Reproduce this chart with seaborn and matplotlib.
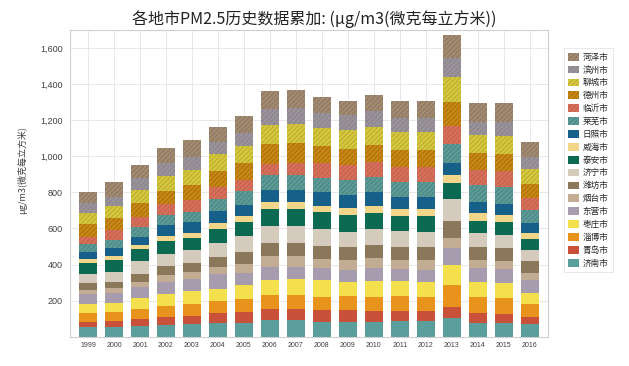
import pandas as pd
import matplotlib
matplotlib.use("Agg")
import matplotlib.pyplot as plt
from matplotlib.patches import Patch
from matplotlib.colors import to_rgba
import seaborn as sns

years = list(range(1999, 2017))

# PM2.5 per city, 1999-2016 (stacked bottom -> top)
jinan = [52, 52, 59, 65, 70, 74, 78, 92, 92, 83, 83, 83, 89, 89, 102, 78, 78, 70]
qingdao = [31, 35, 39, 46, 46, 55, 57, 59, 59, 65, 65, 60, 55, 55, 65, 55, 50, 41]
zibo = [46, 48, 54, 59, 65, 68, 74, 83, 83, 74, 78, 78, 80, 78, 120, 89, 85, 70]
zaozhuang = [55, 54, 61, 66, 70, 70, 78, 83, 85, 92, 79, 90, 83, 83, 111, 83, 85, 59]
dongying = [55, 52, 65, 68, 70, 83, 65, 70, 70, 65, 65, 68, 68, 65, 92, 74, 78, 74]
yantai = [22, 28, 28, 37, 37, 37, 52, 59, 57, 52, 55, 55, 52, 55, 55, 46, 46, 41]
weifang = [37, 37, 41, 50, 52, 55, 65, 74, 74, 74, 74, 72, 70, 70, 98, 74, 72, 65]
jining = [52, 55, 70, 70, 70, 79, 87, 92, 94, 92, 83, 90, 87, 87, 118, 74, 72, 61]
taian = [59, 65, 68, 68, 68, 78, 78, 98, 96, 92, 92, 92, 87, 89, 89, 70, 70, 61]
weihai = [24, 24, 24, 28, 28, 31, 33, 37, 37, 37, 37, 37, 37, 37, 46, 44, 40, 31]
rizhao = [37, 41, 46, 61, 61, 66, 65, 65, 67, 78, 74, 78, 68, 68, 68, 61, 61, 59]
laiwu = [42, 46, 55, 55, 55, 68, 74, 83, 83, 74, 83, 80, 83, 83, 103, 92, 95, 70]
linyi = [41, 52, 55, 65, 65, 68, 65, 65, 67, 87, 83, 87, 83, 83, 100, 83, 85, 65]
dezhou = [74, 68, 74, 72, 83, 89, 92, 107, 107, 92, 92, 94, 92, 92, 135, 96, 98, 79]
liaocheng = [59, 68, 74, 83, 83, 89, 96, 105, 107, 98, 102, 100, 100, 102, 139, 98, 98, 81]
binzhou = [55, 52, 65, 72, 74, 68, 70, 92, 92, 83, 83, 85, 76, 74, 102, 74, 76, 70]
heze = [61, 83, 74, 79, 93, 87, 92, 96, 97, 92, 78, 93, 98, 98, 129, 102, 106, 83]

# legend order, top -> bottom
cities = ["菏泽市", "滨州市", "聊城市", "德州市", "临沂市", "莱芜市", "日照市", "威海市",
          "泰安市", "济宁市", "潍坊市", "烟台市", "东营市", "枣庄市", "淄博市", "青岛市", "济南市"]
series = [heze, binzhou, liaocheng, dezhou, linyi, laiwu, rizhao, weihai,
          taian, jining, weifang, yantai, dongying, zaozhuang, zibo, qingdao, jinan]
colors = ["#A38B72", "#8E899A", "#D6C83E", "#C98714", "#D6705B", "#4E8E8A", "#166089", "#F1D68A",
          "#0D6A52", "#D5CBBC", "#8B785A", "#C2AC93", "#A79CAD", "#F4E04D", "#E8941C", "#C9513A", "#5A9F9C"]
hatch_colors = {
    "菏泽市": "#8A7560", "滨州市": "#A89C8C", "聊城市": "#B8AA2C", "德州市": "#A66E0C",
    "临沂市": "#C2604D", "莱芜市": "#6FA39E",
}

rows = []
for city, vals in zip(cities, series):
    for y, v in zip(years, vals):
        rows.append({"year": y, "city": city, "value": v})
df = pd.DataFrame(rows)

sns.set_style("white")
plt.rcParams["font.family"] = ["Noto Sans CJK SC", "DejaVu Sans"]
plt.rcParams["hatch.linewidth"] = 0.7

fig = plt.figure(figsize=(6.29, 3.66), dpi=100)
ax = fig.add_axes([0.111, 0.080, 0.760, 0.838])

palette = dict(zip(cities, colors))
sns.histplot(data=df, x="year", hue="city", weights="value", multiple="stack",
             discrete=True, shrink=0.7, hue_order=cities, palette=palette,
             alpha=1, linewidth=0, legend=False, ax=ax)

# hatch the upper six cities
rgba_map = {city: to_rgba(c) for city, c in palette.items()}
for p in ax.patches:
    fc = p.get_facecolor()
    for city, rc in rgba_map.items():
        if all(abs(a - b) < 0.01 for a, b in zip(fc[:3], rc[:3])):
            if city in hatch_colors:
                p.set_hatch("///////")
                p.set_edgecolor(hatch_colors[city])
                p.set_linewidth(0)
            break

ax.set_xlim(1998.3, 2016.7)
ax.set_ylim(0, 1700)
ax.set_xticks(years)
ax.set_xticklabels([str(y) for y in years], fontsize=5, family="Liberation Sans", color="#404040")
ax.set_yticks(range(200, 1601, 200))
ax.set_yticklabels([f"{v:,}" for v in range(200, 1601, 200)], fontsize=6.5,
                   family="Liberation Sans", color="#404040")
ax.tick_params(axis="x", length=0, pad=4)
ax.tick_params(axis="y", length=3, color="#b0b0b0", width=0.6, pad=2)
ax.set_axisbelow(True)
ax.grid(True, color="#e4e4e4", linewidth=0.6)
for s in ax.spines.values():
    s.set_color("#cfcfcf")
    s.set_linewidth(0.8)

ax.set_xlabel("")
ax.set_ylabel("μg/m3(微克每立方米)", fontsize=6.5, color="#404040")
ax.yaxis.set_label_coords(-0.09, 0.545)
fig.suptitle("各地市PM2.5历史数据累加: (μg/m3(微克每立方米))", fontsize=11.5,
             color="#222222", x=0.5, y=0.972, va="top")

handles = []
for city, c in zip(cities, colors):
    if city in hatch_colors:
        handles.append(Patch(facecolor=c, edgecolor=hatch_colors[city], hatch="///////", linewidth=0))
    else:
        handles.append(Patch(facecolor=c, linewidth=0))
leg = fig.legend(handles, cities, loc="upper left", bbox_to_anchor=(0.896, 0.868),
                 fontsize=6.2, frameon=True, fancybox=False, edgecolor="#dddddd",
                 handlelength=1.3, handleheight=1.0, handletextpad=0.4,
                 labelspacing=0.45, borderpad=0.5, borderaxespad=0)
leg.get_frame().set_linewidth(0.6)

fig.savefig("out.png", dpi=100)
